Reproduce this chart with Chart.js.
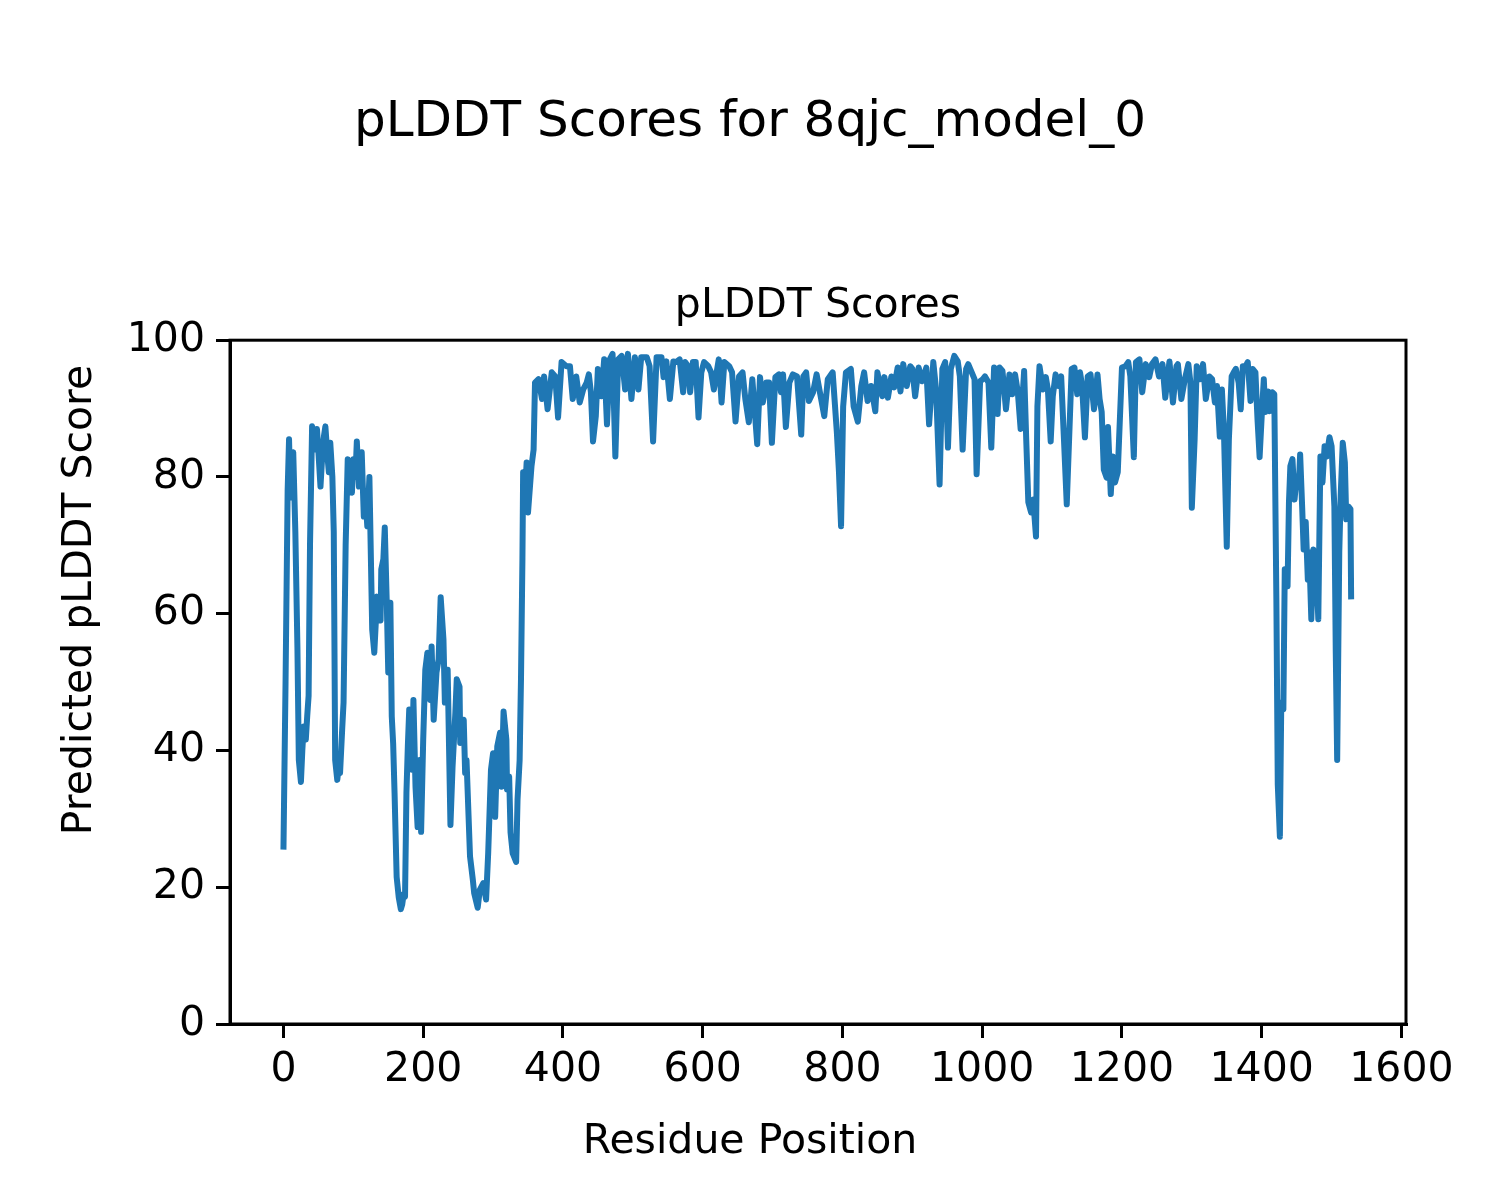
<!DOCTYPE html>
<html>
<head>
<meta charset="utf-8">
<script src="https://cdn.jsdelivr.net/npm/chart.js@4.4.0/dist/chart.umd.min.js"></script>
<style>
  html, body { margin: 0; padding: 0; background: #fff; }
  canvas { display: block; }
</style>
</head>
<body>
<canvas id="myChart" width="1500" height="1200"></canvas>
<script>
var residuePositions = [
  0, 3, 6, 8, 10, 12, 14, 17, 20, 22, 25, 27, 29, 32, 34, 36, 38, 41, 44, 46,
  48, 51, 53, 56, 58, 60, 63, 65, 67, 70, 72, 74, 77, 79, 81, 84, 86, 89, 92, 95,
  98, 100, 103, 105, 108, 110, 112, 115, 118, 120, 123, 127, 130, 134, 137, 139, 140, 143, 145, 148,
  150, 153, 155, 157, 159, 162, 165, 168, 170, 172, 174, 176, 178, 180, 184, 186, 189, 192, 195, 197,
  200, 203, 206, 210, 212, 215, 219, 222, 225, 229, 231, 235, 239, 242, 246, 248, 252, 253, 258, 260,
  262, 267, 271, 273, 278, 281, 286, 290, 293, 297, 300, 303, 306, 310, 312, 315, 319, 320, 323, 325,
  328, 333, 335, 338, 340, 342, 343, 345, 348, 350, 355, 358, 360, 365, 370, 373, 378, 384, 389, 393,
  398, 405, 410, 414, 419, 424, 429, 434, 437, 440, 443, 447, 450, 455, 459, 463, 467, 471, 475, 479,
  484, 489, 493, 498, 503, 508, 512, 520, 524, 529, 534, 541, 544, 548, 553, 558, 562, 567, 572, 575,
  579, 582, 586, 590, 594, 598, 602, 608, 612, 616, 623, 627, 631, 638, 642, 647, 652, 657, 661, 666,
  671, 674, 678, 682, 686, 691, 695, 699, 704, 709, 712, 715, 719, 724, 729, 735, 741, 744, 748, 752,
  758, 763, 767, 774, 779, 786, 792, 795, 798, 801, 805, 812, 816, 822, 827, 831, 836, 841, 847, 850,
  857, 860, 865, 870, 874, 879, 883, 887, 892, 897, 900, 904, 909, 914, 920, 924, 930, 934, 939, 943,
  947, 951, 955, 960, 965, 968, 972, 977, 980, 985, 989, 992, 997, 1001, 1004, 1009, 1013, 1017, 1022, 1025,
  1029, 1034, 1039, 1043, 1047, 1051, 1055, 1060, 1063, 1066, 1070, 1073, 1077, 1079, 1082, 1087, 1091, 1094, 1098, 1101,
  1105, 1109, 1113, 1117, 1121, 1124, 1128, 1132, 1136, 1140, 1143, 1147, 1151, 1155, 1160, 1165, 1168, 1171, 1174, 1178,
  1180, 1184, 1187, 1190, 1194, 1197, 1200, 1205, 1209, 1212, 1217, 1220, 1225, 1229, 1234, 1239, 1243, 1248, 1253, 1258,
  1262, 1268, 1273, 1278, 1280, 1285, 1290, 1295, 1298, 1300, 1304, 1307, 1312, 1316, 1320, 1325, 1329, 1333, 1336, 1340,
  1343, 1346, 1350, 1353, 1357, 1360, 1363, 1367, 1370, 1373, 1377, 1380, 1384, 1387, 1391, 1394, 1397, 1400, 1403, 1405,
  1409, 1411, 1415, 1418, 1421, 1423, 1426, 1428, 1431, 1433, 1437, 1439, 1441, 1444, 1447, 1450, 1453, 1455, 1458, 1460,
  1463, 1466, 1468, 1471, 1474, 1478, 1481, 1484, 1487, 1490, 1493, 1497, 1500, 1504, 1506, 1508, 1511, 1513, 1516, 1519,
  1521, 1524, 1527, 1528
];
var plddtScores = [
  25.5, 50, 78, 85.5, 77, 82, 83.6, 72, 55, 38.6, 35.4, 40, 43.5, 41.6, 45, 48, 70, 87.4, 86, 84,
  87, 82, 78.6, 84, 86, 87.4, 83, 80.7, 85, 80, 72, 38.6, 35.7, 37.5, 36.7, 43, 47, 70, 82.6, 80,
  77.7, 82.6, 80, 85.2, 78.6, 81, 83.6, 74.2, 76, 72.8, 80, 57.7, 54.3, 62.5, 60, 59, 66.5, 68, 72.6, 61,
  51.4, 61.6, 45, 41, 33.8, 21.5, 18.5, 16.8, 17.5, 19, 18.6, 33.8, 40.6, 46, 37.2, 47.4, 34.7, 28.8, 38.6, 28.1,
  41.6, 51.8, 54.3, 47.4, 55.2, 44.5, 51.4, 53.3, 62.4, 56.2, 47, 51.8, 29.1, 37.6, 45.5, 50.4, 49.3, 41.1, 44.5, 36.7,
  38.6, 24.5, 21.1, 19.1, 17, 19.6, 20.6, 18.2, 25, 37.2, 39.6, 30.3, 40.6, 42.6, 34.7, 45.7, 41.6, 34.3, 36.2, 28,
  25, 23.7, 32.8, 38.6, 50.8, 68, 80.7, 76, 82.1, 74.8, 81.6, 84, 93.8, 94.3, 91.4, 94.7, 89.9, 95.3, 94.7, 88.7,
  96.8, 96.2, 96.2, 91.4, 94.7, 90.9, 92.8, 93.8, 95, 92.4, 85.2, 88.9, 95.8, 91.8, 97.2, 87.7, 97.2, 98, 83, 97.2,
  97.7, 92.8, 98, 91.4, 97.5, 92.8, 97.5, 97.5, 96.2, 85.2, 97.5, 97.5, 94.6, 96.9, 91.4, 96.9, 96.8, 97.2, 92.4, 96.8,
  96.2, 92.4, 96.8, 96.8, 88.7, 95.3, 96.8, 96.2, 95.3, 92.8, 97.2, 90.9, 96.8, 96.2, 95.3, 88.1, 94.7, 95.3, 91.4, 88,
  94.3, 90.3, 84.8, 94.6, 90.9, 93.8, 93.8, 85, 94.6, 95, 92.4, 95, 87.3, 93.8, 95, 94.7, 86.2, 94.7, 95.3, 91.1,
  92.4, 95, 92.8, 88.9, 94.3, 95.3, 86.5, 80.7, 72.8, 90.3, 95.3, 95.8, 90.3, 88.1, 93.3, 95.3, 91.1, 93.3, 89.6, 95.3,
  91.8, 94.6, 91.6, 94.7, 93.1, 96, 92.5, 96.5, 93.3, 96.2, 95.8, 91.8, 96, 94, 96, 87.7, 96.8, 92.8, 78.9, 95.8,
  96.8, 84.3, 95.8, 97.7, 96.9, 94.7, 84, 95.8, 96.5, 95.3, 94.3, 80.4, 94, 94.3, 94.7, 93.8, 84.3, 96, 89.2, 96,
  95.5, 89.9, 95, 92.1, 95, 92.4, 87, 95.5, 85.5, 76.3, 74.8, 76.7, 71.3, 90.3, 96.2, 92.8, 94.6, 92.8, 85.2, 91.8,
  95, 93.3, 94.7, 85.5, 76, 84.5, 95.8, 96, 92.1, 95.3, 93.3, 85.8, 94.7, 95, 89.9, 95, 91.4, 89.5, 81.1, 79.9,
  87.3, 77.5, 83, 79.2, 80.7, 88.4, 96, 96.2, 96.8, 94.7, 82.9, 96.8, 97.2, 92.4, 96.5, 94.6, 96.5, 97.2, 94.7, 96.5,
  91.6, 96.9, 90.9, 96.2, 96.5, 91.4, 94.3, 96.5, 93.8, 75.5, 85.5, 96.2, 94.3, 96.5, 91.4, 94.7, 94.3, 90.9, 93.3, 85.9,
  92.8, 86.5, 69.8, 85.5, 94.7, 95.3, 95.8, 93.8, 89.9, 96.2, 96.2, 96.8, 91.1, 95.8, 95.3, 88.4, 82.9, 88.9, 94.3, 89.5,
  92.5, 89.6, 92.4, 92.1, 62, 35, 27.4, 47, 46, 66.5, 64, 76.3, 81.6, 82.6, 76.7, 80.1, 78.6, 83.3, 75.3, 69.4,
  73.4, 65, 69, 59.2, 69.4, 66.9, 59.2, 83, 79.2, 84.5, 83, 85.8, 84.5, 75.7, 54.3, 38.6, 69, 77.2, 85, 82.1,
  73.8, 75.7, 75.3, 62.1
];
var xTicks = [0, 200, 400, 600, 800, 1000, 1200, 1400, 1600];
var yTicks = [0, 20, 40, 60, 80, 100];

var figureTitle = "pLDDT Scores for 8qjc_model_0";
var axesTitle = "pLDDT Scores";
var xLabel = "Residue Position";
var yLabel = "Predicted pLDDT Score";

var points = residuePositions.map(function (p, i) {
  return { x: p, y: plddtScores[i] };
});

// figure level texts (suptitle, supxlabel, supylabel) and the axes frame
var figureText = {
  id: 'figureText',
  afterDraw: function (chart) {
    var ctx = chart.ctx;
    var a = chart.chartArea;
    ctx.save();
    ctx.strokeStyle = '#000';
    ctx.lineWidth = 3;
    ctx.strokeRect(a.left, a.top, a.right - a.left, a.bottom - a.top);
    ctx.fillStyle = '#000';
    ctx.textAlign = 'center';
    ctx.textBaseline = 'alphabetic';
    ctx.font = '50px "DejaVu Sans"';
    ctx.fillText(figureTitle, 750, 136);
    ctx.font = '41px "DejaVu Sans"';
    ctx.fillText(xLabel, 750, 1153);
    ctx.translate(91, 600);
    ctx.rotate(-Math.PI / 2);
    ctx.fillText(yLabel, 0, 0);
    ctx.restore();
  }
};

new Chart("myChart", {
  type: "line",
  data: {
    datasets: [{
      data: points,
      borderColor: "#1f77b4",
      borderWidth: 6,
      borderJoinStyle: 'round',
      borderCapStyle: 'butt',
      pointRadius: 0,
      tension: 0,
      fill: false
    }]
  },
  options: {
    responsive: false,
    devicePixelRatio: 1,
    animation: false,
    layout: {
      padding: { top: 282, left: 130, right: 94, bottom: 116 }
    },
    plugins: {
      legend: { display: false },
      tooltip: { enabled: false },
      title: {
        display: true,
        text: axesTitle,
        fullSize: false,
        color: '#000',
        font: { family: 'DejaVu Sans', size: 41, weight: 'normal', lineHeight: 1.2 },
        padding: { top: 0, bottom: 9 }
      }
    },
    scales: {
      x: {
        type: 'linear',
        min: -76.5,
        max: 1606.5,
        afterBuildTicks: function (axis) {
          axis.ticks = xTicks.map(function (v) { return { value: v }; });
        },
        afterFit: function (axis) {
          axis.height = 60;
          axis.paddingLeft = 0;
          axis.paddingRight = 0;
        },
        grid: { drawOnChartArea: false, drawTicks: true, tickLength: 14, color: '#000', lineWidth: 3 },
        border: { display: true, color: '#000', width: 3 },
        ticks: {
          color: '#000',
          padding: 8,
          maxRotation: 0,
          font: { family: 'DejaVu Sans', size: 41 },
          callback: function (v) { return String(v); }
        }
      },
      y: {
        min: 0,
        max: 100,
        afterBuildTicks: function (axis) {
          axis.ticks = yTicks.map(function (v) { return { value: v }; });
        },
        afterFit: function (axis) {
          axis.width = 100;
          axis.paddingTop = 0;
          axis.paddingBottom = 0;
        },
        grid: { drawOnChartArea: false, drawTicks: true, tickLength: 14, color: '#000', lineWidth: 3 },
        border: { display: true, color: '#000', width: 3 },
        ticks: {
          color: '#000',
          padding: 11,
          font: { family: 'DejaVu Sans', size: 41 },
          callback: function (v) { return String(v); }
        }
      }
    }
  },
  plugins: [figureText]
});
</script>
</body>
</html>
